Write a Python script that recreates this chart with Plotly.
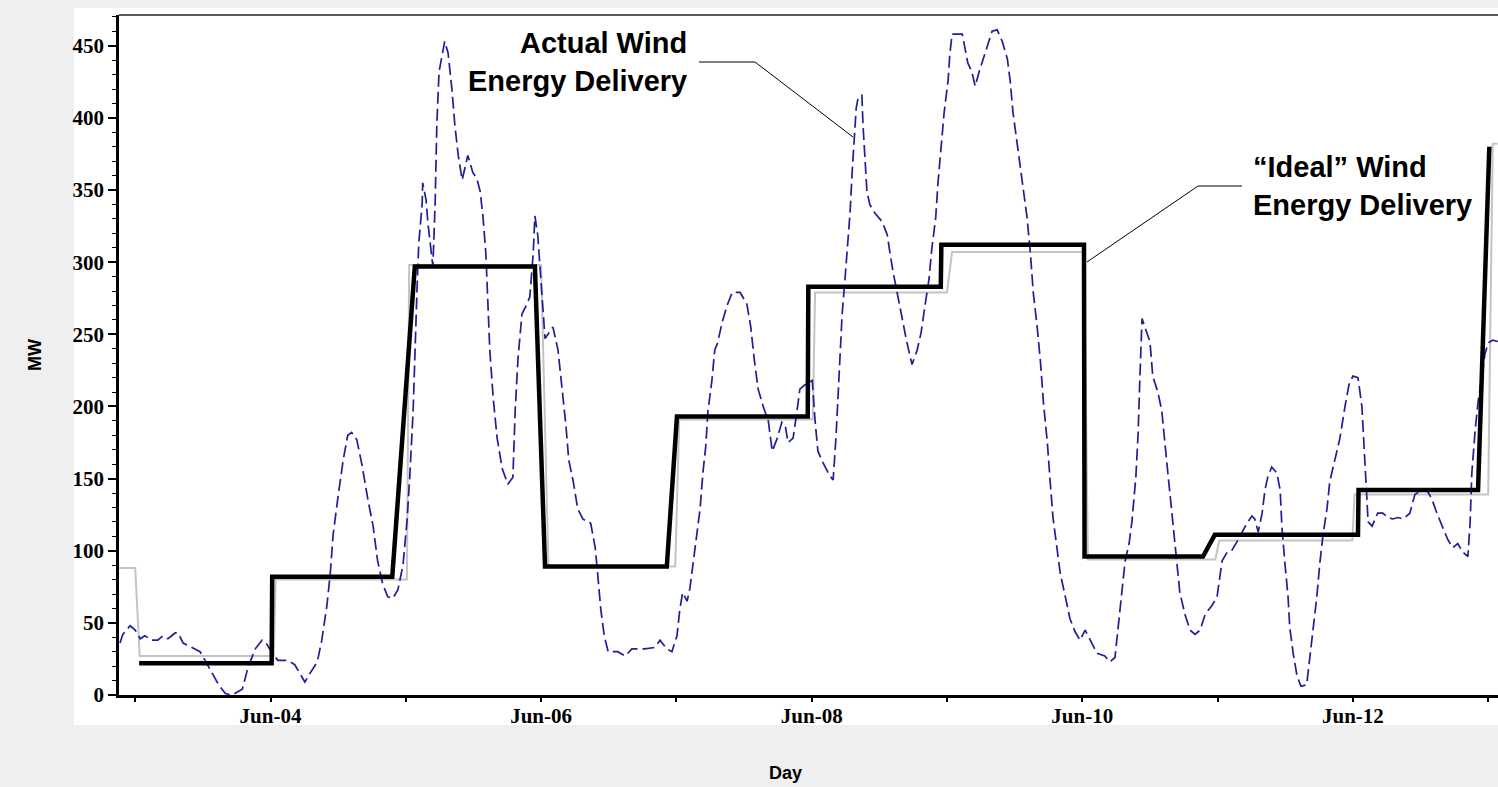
import pandas as pd
import plotly.graph_objects as go

BASE = pd.Timestamp("2005-06-03 00:00")

# Actual wind energy delivery (hours after Jun-03 00:00, MW)
actual_hours = [
    -2.7, -2.2, -0.9, 0.0, 0.9, 1.7, 3.0, 4.0, 4.9, 5.8, 7.1, 7.6, 8.5, 10.1, 11.5, 12.4, 13.7, 14.8,
    16.0, 17.2, 19.0, 20.0, 21.3, 22.5, 23.4, 24.3, 25.3, 27.1, 28.3, 29.2, 30.1, 31.0, 32.3, 33.1,
    34.0, 34.6, 35.1, 36.0, 36.9, 37.7, 38.4, 39.3, 40.2, 41.3, 42.2, 43.0, 43.9, 44.8, 45.7, 46.6,
    47.5, 48.2, 48.7, 49.3, 49.6, 50.0, 50.3, 50.9, 51.0, 51.6, 51.9, 52.5, 52.8, 53.2, 53.5, 53.9,
    54.4, 54.9, 55.5, 56.2, 56.7, 57.3, 58.0, 59.0, 59.9, 60.6, 61.2, 61.7, 62.2, 62.6, 62.9, 63.5,
    64.2, 65.1, 66.1, 67.0, 67.4, 67.9, 68.6, 69.5, 70.0, 70.6, 70.9, 71.4, 71.8, 72.2, 72.7, 73.4,
    74.1, 75.0, 75.7, 76.4, 76.9, 77.7, 78.5, 79.4, 80.8, 81.6, 82.1, 82.6, 83.2, 83.9, 85.6, 86.9,
    88.1, 90.4, 92.2, 93.1, 94.3, 95.2, 96.1, 96.6, 97.1, 97.9, 98.4, 98.9, 99.6, 100.2, 100.7, 101.2,
    101.6, 102.3, 102.8, 103.3, 104.1, 105.0, 105.9, 107.3, 108.5, 109.2, 109.8, 110.5, 111.4, 112.3,
    113.0, 113.9, 114.7, 115.3, 115.8, 116.7, 117.4, 117.9, 118.8, 120.1, 120.6, 121.1, 122.0, 123.2,
    123.8, 124.3, 124.7, 125.0, 125.4, 125.9, 126.4, 126.8, 127.2, 127.5, 127.9, 128.2, 128.9, 129.1,
    129.4, 129.8, 130.3, 131.2, 132.5, 133.4, 133.9, 134.4, 135.3, 136.0, 136.7, 137.2, 137.8, 138.7,
    139.4, 140.1, 140.8, 141.3, 142.0, 142.4, 142.9, 143.5, 144.2, 144.5, 144.9, 145.9, 146.7, 147.2,
    147.7, 148.4, 149.0, 149.7, 150.4, 151.3, 152.0, 152.9, 153.8, 154.7, 155.2, 155.7, 156.4, 157.0,
    157.5, 158.2, 158.8, 159.3, 160.0, 160.6, 161.1, 161.8, 162.3, 162.8, 163.5, 164.1, 165.0, 165.8,
    166.7, 167.6, 168.5, 169.4, 170.6, 172.0, 172.9, 173.8, 174.3, 175.0, 175.6, 176.3, 176.8, 177.5,
    177.9, 178.2, 178.6, 179.1, 180.0, 180.5, 181.4, 182.1, 182.6, 183.2, 183.9, 184.8, 185.3, 186.2,
    187.1, 188.0, 188.9, 189.8, 191.0, 191.9, 192.3, 192.8, 193.7, 194.5, 195.4, 196.3, 197.2, 198.1,
    198.6, 199.2, 199.9, 200.4, 200.9, 201.6, 202.5, 203.1, 203.4, 203.9, 204.5, 204.8, 205.4, 206.1,
    206.8, 207.8, 208.4, 208.9, 209.6, 210.1, 210.7, 211.4, 211.9, 212.8, 213.7, 214.6, 215.3, 216.0,
    216.9, 217.6, 217.9, 218.3, 218.7, 219.4, 220.4, 221.3, 222.2, 223.1, 224.0, 224.9, 226.1, 227.0,
    228.3, 229.1, 230.0, 230.9, 231.8, 232.8, 233.7, 234.6, 235.5, 236.4, 236.8, 237.1, 237.7, 238.2,
    238.9, 239.4, 240.0, 240.8, 241.7,
]
actual_mw = [
    36, 42, 48, 45, 39, 41, 38, 38, 41, 39, 43, 43, 36, 33, 30, 24, 15, 7,
    1, 0, 4, 19, 32, 38, 35, 29, 24, 24, 21, 15, 9, 15, 23, 38,
    62, 84, 111, 138, 163, 180, 182, 177, 160, 135, 117, 93, 77, 68, 67, 73,
    90, 120, 151, 197, 242, 282, 313, 340, 355, 343, 328, 309, 297, 340, 395, 432,
    444, 453, 445, 419, 395, 374, 357, 374, 362, 358, 349, 331, 306, 273, 239, 206,
    178, 157, 146, 151, 197, 233, 264, 271, 276, 306, 332, 319, 297, 273, 247, 251,
    255, 239, 215, 187, 163, 148, 129, 122, 119, 102, 81, 59, 41, 30, 30, 27,
    32, 32, 33, 38, 32, 30, 41, 59, 71, 65, 74, 90, 111, 129, 154, 172,
    197, 218, 239, 244, 258, 270, 279, 279, 271, 255, 233, 212, 200, 190,
    169, 178, 189, 187, 175, 178, 197, 212, 215, 218, 190, 169, 161, 152,
    149, 178, 209, 236, 264, 288, 313, 334, 364, 386, 407, 413, 416, 395,
    374, 349, 340, 334, 328, 319, 306, 294, 276, 261, 248, 239, 229, 239,
    251, 270, 288, 309, 331, 355, 380, 404, 426, 444, 458, 458, 458, 448,
    438, 432, 422, 432, 441, 452, 460, 461, 453, 441, 426, 404, 383, 364,
    349, 331, 306, 279, 255, 230, 203, 175, 148, 123, 102, 84, 68, 53,
    44, 38, 45, 38, 29, 27, 23, 26, 44, 68, 93, 105, 120, 151,
    181, 218, 261, 255, 245, 221, 210, 197, 175, 153, 126, 90, 71, 56,
    45, 42, 45, 56, 62, 68, 81, 93, 99, 100, 106, 113, 119, 124,
    122, 113, 126, 142, 151, 158, 154, 142, 117, 93, 68, 47, 29, 13,
    6, 7, 26, 44, 68, 90, 111, 129, 148, 163, 178, 200, 215, 221,
    220, 200, 178, 148, 120, 117, 126, 126, 123, 122, 123, 122, 126, 139,
    142, 142, 136, 126, 117, 108, 102, 105, 99, 96, 120, 154, 184, 203,
    221, 236, 244, 246, 245,
]

# "Ideal" wind energy delivery (step profile)
ideal_hours = [0.7, 24.2, 24.3, 45.6, 49.6, 70.9, 72.7, 94.3, 96.1, 119.3, 119.4, 142.9, 143.0,
               168.3, 168.4, 189.4, 191.5, 216.9, 217.0, 238.2, 240.2]
ideal_mw = [22, 22, 82, 82, 297, 297, 89, 89, 193, 193, 283, 283, 312,
            312, 96, 96, 111, 111, 142, 142, 380]

# Light grey daily schedule
sched_hours = [-2.9, 0.0, 0.8, 24.6, 24.9, 48.2, 48.6, 72.0, 73.3, 95.8, 96.5, 120.2, 120.6,
               144.0, 144.9, 168.3, 169.0, 191.6, 192.3, 215.9, 216.3, 240.0, 240.8, 241.7]
sched_mw = [88, 88, 27, 27, 80, 80, 298, 298, 89, 89, 191, 191, 279,
            279, 307, 307, 94, 94, 107, 107, 139, 139, 382, 382]

tick_days = ["2005-06-04", "2005-06-06", "2005-06-08", "2005-06-10", "2005-06-12"]
tick_labels = ["Jun-04", "Jun-06", "Jun-08", "Jun-10", "Jun-12"]
y_ticks = [0, 50, 100, 150, 200, 250, 300, 350, 400, 450]


def to_time(hours):
    return [BASE + pd.Timedelta(hours=h) for h in hours]


W, H = 1498, 787
L, R, T, B = 119, 0, 15, 92
PW, PH = W - L - R, H - T - B


def px(x):
    return (x - L) / PW


def py(y):
    return (H - B - y) / PH


fig = go.Figure()
fig.add_trace(go.Scatter(x=to_time(sched_hours), y=sched_mw, mode="lines",
                         line=dict(color="#c4c4c4", width=2), hoverinfo="skip"))
fig.add_trace(go.Scatter(x=to_time(actual_hours), y=actual_mw, mode="lines",
                         line=dict(color="#1f1f99", width=1.7, dash="12px,5px"),
                         name="Actual Wind Energy Delivery"))
fig.add_trace(go.Scatter(x=to_time(ideal_hours), y=ideal_mw, mode="lines",
                         line=dict(color="black", width=4.5),
                         name="Ideal Wind Energy Delivery"))

x_start = BASE + pd.Timedelta(hours=-2.874)
x_end = BASE + pd.Timedelta(hours=241.74)

tickfont = dict(family="Liberation Serif", size=21, color="black", weight="bold")

fig.update_layout(
    width=W, height=H,
    margin=dict(l=L, r=R, t=T, b=B, pad=0),
    paper_bgcolor="#efefef",
    plot_bgcolor="white",
    showlegend=False,
    xaxis=dict(
        type="date", range=[x_start, x_end],
        tickmode="array", tickvals=tick_days, ticktext=tick_labels,
        ticks="",
        minor=dict(dtick=86400000, tick0="2005-06-03", ticks="outside", ticklen=4,
                   tickwidth=1.5, tickcolor="black"),
        showline=True, linecolor="black", linewidth=3,
        showgrid=False, zeroline=False, tickfont=tickfont,
    ),
    yaxis=dict(
        range=[0, 471.3],
        tickmode="array", tickvals=y_ticks,
        ticks="outside", ticklen=8, tickwidth=1.5, tickcolor="black",
        minor=dict(dtick=10, tick0=0, ticks="outside", ticklen=4,
                   tickwidth=1.2, tickcolor="black"),
        showline=True, linecolor="black", linewidth=2.5,
        showgrid=False, zeroline=False, tickfont=tickfont,
    ),
)

# white panel behind the chart and top frame line
fig.add_shape(type="rect", xref="paper", yref="paper", layer="below",
              x0=px(74), x1=px(1498), y0=py(725), y1=py(8),
              fillcolor="white", line=dict(width=0))
fig.add_shape(type="line", xref="paper", yref="paper",
              x0=0, x1=1, y0=1, y1=1, line=dict(color="#222222", width=1.5))

# leader lines
fig.add_shape(type="path", xref="paper", yref="paper",
              path=f"M {px(699)},{py(62)} L {px(755)},{py(62)} L {px(853)},{py(137)}",
              line=dict(color="black", width=1))
fig.add_shape(type="path", xref="paper", yref="paper",
              path=f"M {px(1242)},{py(186)} L {px(1198)},{py(186)} L {px(1087)},{py(262)}",
              line=dict(color="black", width=1))

labfont = dict(family="Liberation Sans", size=29, color="black", weight="bold")
fig.add_annotation(text="Actual Wind<br>Energy Delivery", xref="paper", yref="paper",
                   x=px(689), y=py(62.5), xanchor="right", yanchor="middle",
                   align="right", showarrow=False, font=labfont)
fig.add_annotation(text="\u201cIdeal\u201d Wind<br>Energy Delivery", xref="paper", yref="paper",
                   x=px(1251), y=py(185.5), xanchor="left", yanchor="middle",
                   align="left", showarrow=False, font=labfont)

titlefont = dict(family="Liberation Sans", size=18, color="black", weight="bold")
fig.add_annotation(text="MW", xref="paper", yref="paper", x=px(35), y=py(355),
                   xanchor="center", yanchor="middle", textangle=-90,
                   showarrow=False, font=titlefont)
fig.add_annotation(text="Day", xref="paper", yref="paper", x=px(785), y=py(773),
                   xanchor="center", yanchor="middle",
                   showarrow=False, font=titlefont)

fig.write_html(
    "out.html",
    config={"displayModeBar": False},
    post_script="document.body.style.margin='0';document.body.style.overflow='hidden';",
)
